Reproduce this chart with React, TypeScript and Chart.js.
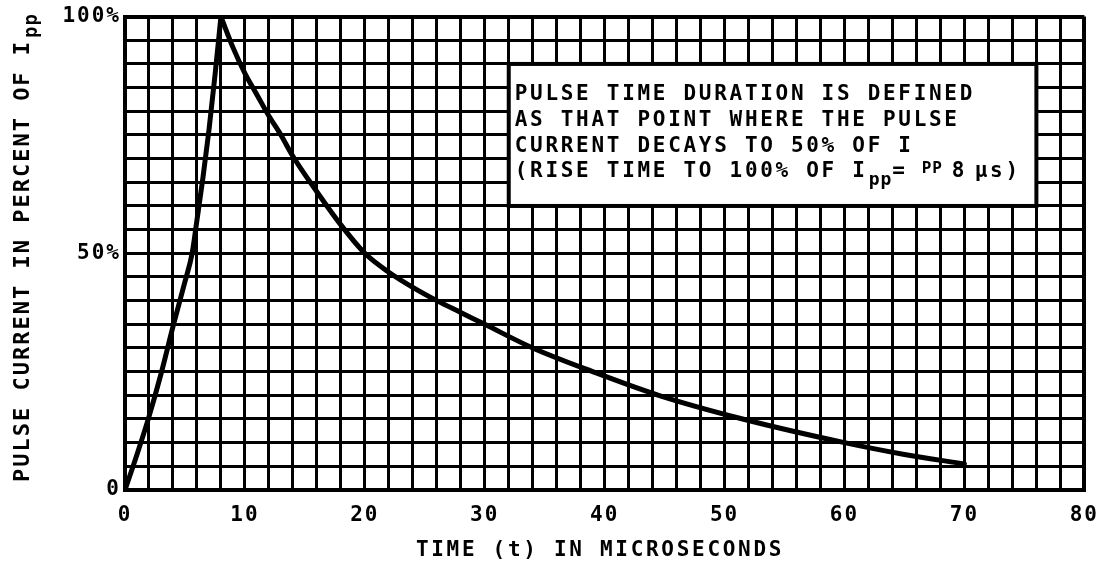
import React, { useEffect, useRef } from "react";
import { Chart, registerables } from "chart.js";

Chart.register(...registerables);

// ---- data ----
const riseTime = [0, 1, 2, 3, 4, 5, 5.6, 6, 6.5, 7, 7.5, 8];
const riseCurrent = [0, 7.5, 15.5, 24.5, 34.5, 44, 50, 57, 66, 76, 87.5, 100];

const decayTime = [8, 9, 10, 11, 12, 13, 14, 16, 18, 20, 22, 24, 26, 28, 30, 34, 39, 44.5, 51.5, 60, 65, 70];
const decayCurrent = [100, 93.5, 88, 83.5, 79, 75, 70.5, 63, 56, 50, 46, 42.8, 40, 37.5, 35, 30, 25, 20, 15, 10, 7.5, 5.5];

const xLabelValues = [0, 10, 20, 30, 40, 50, 60, 70, 80];
const yLabelValues = [0, 50, 100];
const yLabelTexts = ["0", "50%", "100%"];

const xTitle = "TIME (t) IN MICROSECONDS";
const yTitleMain = "PULSE CURRENT IN PERCENT OF I";
const yTitleSub = "pp";

const noteLines = [
  "PULSE TIME DURATION IS DEFINED",
  "AS THAT POINT WHERE THE PULSE",
  "CURRENT DECAYS TO 50% OF I",
  "(RISE TIME TO 100% OF I",
];
const noteBoxX = [32, 76];
const noteBoxY = [60, 90];

const FONT = '"DejaVu Sans Mono", monospace';

const overlayPlugin = {
  id: "overlay",
  beforeDraw(chart: any) {
    chart.ctx.letterSpacing = "2px";
  },
  afterDraw(chart: any) {
    const ctx = chart.ctx as CanvasRenderingContext2D & { letterSpacing: string };
    const xs = chart.scales.x;
    const ys = chart.scales.y;
    ctx.save();
    // note box
    const l = xs.getPixelForValue(noteBoxX[0]);
    const r = xs.getPixelForValue(noteBoxX[1]);
    const t = ys.getPixelForValue(noteBoxY[1]);
    const b = ys.getPixelForValue(noteBoxY[0]);
    ctx.fillStyle = "#fff";
    ctx.fillRect(l, t, r - l, b - t);
    ctx.strokeStyle = "#000";
    ctx.lineWidth = 4;
    ctx.strokeRect(l, t, r - l, b - t);

    ctx.fillStyle = "#000";
    ctx.textAlign = "left";
    ctx.textBaseline = "alphabetic";
    ctx.font = `bold 21px ${FONT}`;
    ctx.letterSpacing = "2.7px";
    const tx = l + 6;
    const base = [t + 36, t + 62, t + 88, t + 113];
    noteLines.forEach((s, i) => ctx.fillText(s, tx, base[i]));

    const w3 = ctx.measureText(noteLines[2]).width;
    const w4 = ctx.measureText(noteLines[3]).width;
    // line 3 subscript
    ctx.font = `bold 16px ${FONT}`;
    ctx.letterSpacing = "1px";
    ctx.fillText("PP", tx + w3 + 8, base[2] + 21);
    // line 4 subscript and rest
    ctx.font = `bold 18px ${FONT}`;
    ctx.fillText("pp", tx + w4 + 1, base[3] + 8);
    const wpp = ctx.measureText("pp").width;
    ctx.font = `bold 21px ${FONT}`;
    ctx.letterSpacing = "2.7px";
    ctx.fillText("=", tx + w4 + wpp + 1, base[3]);
    ctx.fillText("8", tx + 437, base[3]);
    ctx.fillText("\u00b5s)", tx + 460, base[3]);

    // x title
    ctx.font = `bold 21px ${FONT}`;
    ctx.letterSpacing = "2.7px";
    ctx.textAlign = "center";
    ctx.fillText(xTitle, 600, 556);

    // y title (rotated)
    ctx.save();
    ctx.translate(29, 482);
    ctx.rotate(-Math.PI / 2);
    ctx.textAlign = "left";
    ctx.font = `bold 22px ${FONT}`;
    ctx.letterSpacing = "2px";
    ctx.fillText(yTitleMain, 0, 0);
    const wm = ctx.measureText(yTitleMain).width;
    ctx.font = `bold 19px ${FONT}`;
    ctx.letterSpacing = "1px";
    ctx.fillText(yTitleSub, wm + 2, 8);
    ctx.restore();

    ctx.restore();
  },
};

export default function App() {
  const ref = useRef<HTMLCanvasElement | null>(null);
  useEffect(() => {
    if (!ref.current) return;
    const chart = new Chart(ref.current, {
      type: "line",
      data: {
        datasets: [
          {
            data: riseTime.map((x, i) => ({ x, y: riseCurrent[i] })),
            borderColor: "#000",
            borderWidth: 5,
            pointRadius: 0,
            cubicInterpolationMode: "monotone",
            borderCapStyle: "round",
            fill: false,
          },
          {
            data: decayTime.map((x, i) => ({ x, y: decayCurrent[i] })),
            borderColor: "#000",
            borderWidth: 5,
            pointRadius: 0,
            cubicInterpolationMode: "monotone",
            borderCapStyle: "round",
            fill: false,
          },
        ],
      },
      options: {
        animation: false,
        responsive: false,
        devicePixelRatio: 1,
        layout: { padding: { left: 0, right: 22, top: 14, bottom: 0 } },
        plugins: { legend: { display: false }, tooltip: { enabled: false } },
        events: [],
        scales: {
          x: {
            type: "linear",
            min: 0,
            max: 80,
            afterFit: (s: any) => {
              s.height = 85;
            },
            ticks: {
              stepSize: 2,
              autoSkip: false,
              maxRotation: 0,
              padding: 13,
              color: "#000",
              font: { family: FONT, size: 21, weight: "bold" },
              callback: (v: any) => {
                const n = Math.round(Number(v));
                return xLabelValues.includes(n) ? String(n) : "";
              },
            },
            grid: {
              color: "#000",
              lineWidth: (c: any) => (c.tick && c.tick.value === 80 ? 4 : 3),
              drawTicks: false,
            },
            border: { display: true, color: "#000", width: 4 },
          },
          y: {
            type: "linear",
            min: 0,
            max: 100,
            afterFit: (s: any) => {
              s.width = 125;
            },
            ticks: {
              stepSize: 5,
              autoSkip: false,
              padding: 4,
              color: "#000",
              font: { family: FONT, size: 21, weight: "bold" },
              callback: (v: any) => {
                const n = Math.round(Number(v));
                const i = yLabelValues.indexOf(n);
                return i >= 0 ? yLabelTexts[i] : "";
              },
            },
            grid: {
              color: "#000",
              lineWidth: (c: any) => (c.tick && c.tick.value === 100 ? 4 : 3),
              drawTicks: false,
            },
            border: { display: true, color: "#000", width: 4 },
          },
        },
      } as any,
      plugins: [overlayPlugin],
    });
    return () => chart.destroy();
  }, []);
  return (
    <div style={{ position: "absolute", left: 0, top: 0, width: 1110, height: 575, background: "#fff" }}>
      <canvas ref={ref} width={1110} height={575} style={{ display: "block" }} />
    </div>
  );
}
